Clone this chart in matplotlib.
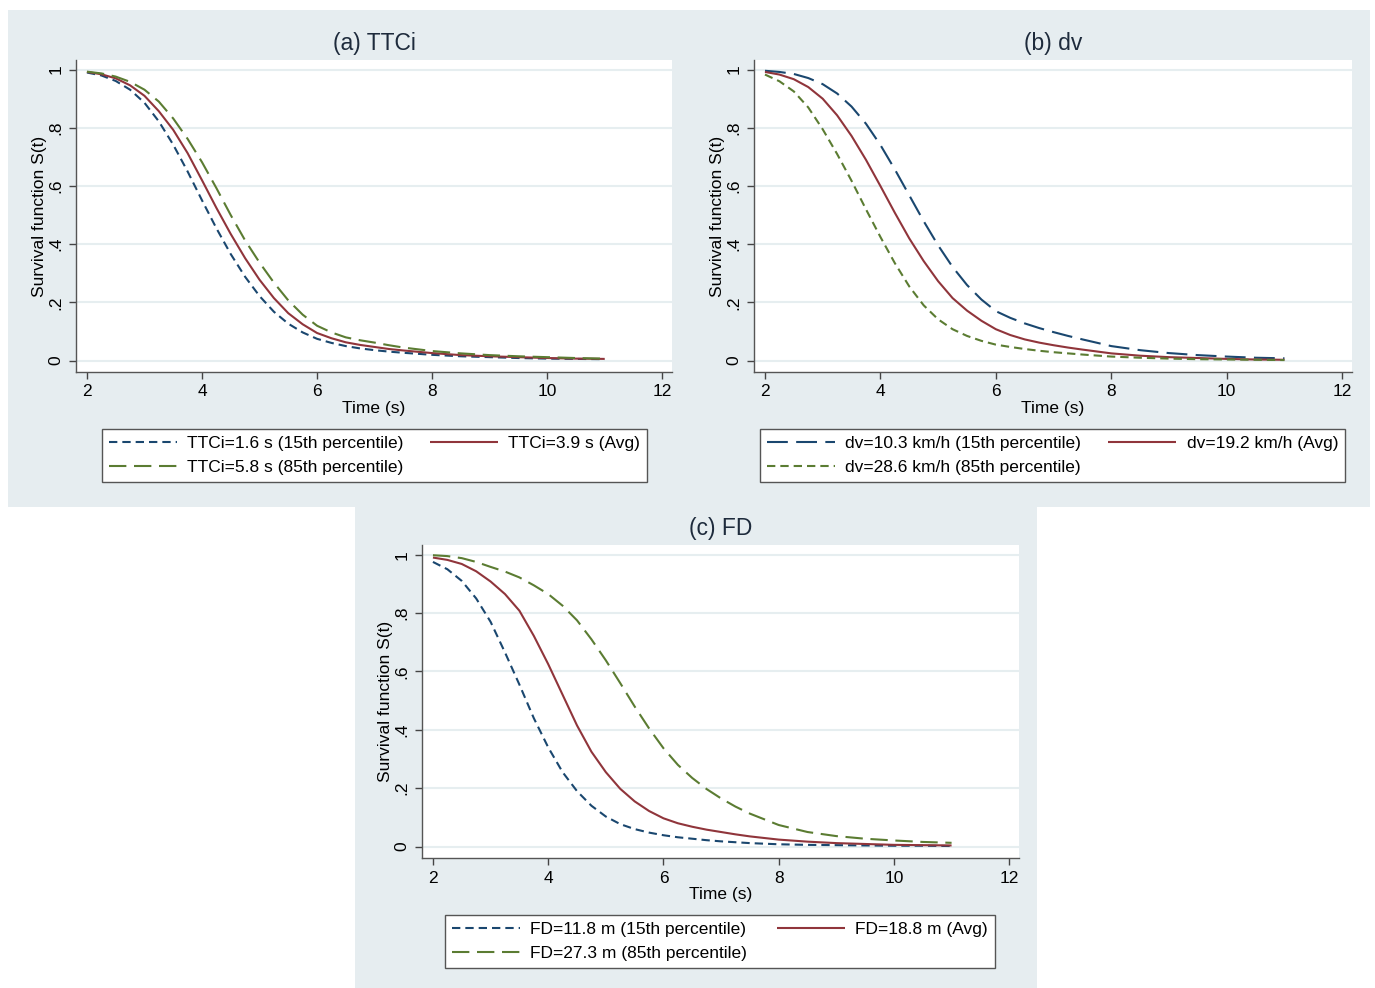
import matplotlib
matplotlib.use("Agg")
import matplotlib.pyplot as plt
from matplotlib.patches import Rectangle

plt.rcParams['font.family'] = ['Liberation Sans', 'DejaVu Sans']
plt.rcParams['lines.scale_dashes'] = False

# ---------------- data ----------------
time_s = [2.0, 2.25, 2.5, 2.75, 3.0, 3.25, 3.5, 3.75, 4.0, 4.25, 4.5, 4.75, 5.0, 5.25,
          5.5, 5.75, 6.0, 6.25, 6.5, 6.75, 7.0, 7.25, 7.5, 8.0, 8.5, 9.0, 9.5, 10.0, 10.5, 11.0]

# (a) TTCi
ttci_p15 = [0.990, 0.980, 0.961, 0.931, 0.886, 0.822, 0.742, 0.650, 0.551, 0.455, 0.366, 0.288,
            0.222, 0.168, 0.127, 0.097, 0.075, 0.061, 0.050, 0.042, 0.036, 0.031, 0.027,
            0.020, 0.015, 0.012, 0.009, 0.007, 0.006, 0.005]
ttci_avg = [0.992, 0.984, 0.970, 0.946, 0.910, 0.857, 0.793, 0.713, 0.620, 0.525, 0.435, 0.352,
            0.278, 0.215, 0.163, 0.125, 0.095, 0.077, 0.063, 0.054, 0.047, 0.040, 0.035,
            0.026, 0.019, 0.015, 0.012, 0.009, 0.007, 0.006]
ttci_p85 = [0.993, 0.987, 0.976, 0.958, 0.931, 0.890, 0.832, 0.762, 0.682, 0.593, 0.500, 0.413,
            0.337, 0.268, 0.207, 0.158, 0.120, 0.097, 0.080, 0.070, 0.062, 0.053, 0.045,
            0.033, 0.025, 0.019, 0.015, 0.012, 0.009, 0.007]

# (b) dv
dv_p15 = [0.996, 0.992, 0.985, 0.971, 0.950, 0.918, 0.873, 0.814, 0.741, 0.657, 0.568, 0.479,
          0.396, 0.322, 0.260, 0.210, 0.170, 0.147, 0.128, 0.112, 0.098, 0.085, 0.073,
          0.050, 0.036, 0.026, 0.019, 0.014, 0.010, 0.008]
dv_avg = [0.992, 0.983, 0.967, 0.940, 0.900, 0.843, 0.772, 0.690, 0.600, 0.508, 0.420, 0.342,
          0.273, 0.215, 0.172, 0.137, 0.108, 0.088, 0.073, 0.062, 0.053, 0.045, 0.038,
          0.025, 0.017, 0.012, 0.009, 0.006, 0.004, 0.003]
dv_p85 = [0.983, 0.960, 0.925, 0.870, 0.795, 0.710, 0.618, 0.520, 0.425, 0.335, 0.255, 0.190,
          0.142, 0.108, 0.085, 0.068, 0.055, 0.047, 0.040, 0.034, 0.029, 0.025, 0.021,
          0.014, 0.010, 0.007, 0.005, 0.004, 0.003, 0.002]

# (c) FD
fd_p15 = [0.975, 0.950, 0.910, 0.850, 0.770, 0.665, 0.555, 0.440, 0.340, 0.255, 0.190, 0.140,
          0.103, 0.077, 0.060, 0.048, 0.039, 0.032, 0.027, 0.022, 0.018, 0.015, 0.012,
          0.008, 0.006, 0.005, 0.004, 0.003, 0.003, 0.002]
fd_avg = [0.990, 0.982, 0.968, 0.943, 0.908, 0.865, 0.808, 0.722, 0.625, 0.520, 0.415, 0.325,
          0.255, 0.198, 0.155, 0.122, 0.097, 0.080, 0.068, 0.058, 0.050, 0.042, 0.035,
          0.024, 0.017, 0.012, 0.009, 0.006, 0.005, 0.004]
fd_p85 = [0.998, 0.995, 0.988, 0.975, 0.958, 0.942, 0.922, 0.895, 0.865, 0.825, 0.775, 0.710,
          0.638, 0.560, 0.480, 0.405, 0.337, 0.280, 0.235, 0.197, 0.165, 0.137, 0.113,
          0.074, 0.050, 0.036, 0.027, 0.021, 0.016, 0.013]

titles = ["(a) TTCi", "(b) dv", "(c) FD"]
labels_a = ["TTCi=1.6 s (15th percentile)", "TTCi=3.9 s (Avg)", "TTCi=5.8 s (85th percentile)"]
labels_b = ["dv=10.3 km/h (15th percentile)", "dv=19.2 km/h (Avg)", "dv=28.6 km/h (85th percentile)"]
labels_c = ["FD=11.8 m (15th percentile)", "FD=18.8 m (Avg)", "FD=27.3 m (85th percentile)"]

x_ticks = [2, 4, 6, 8, 10, 12]
y_ticks = [0, 0.2, 0.4, 0.6, 0.8, 1]
y_tick_labels = ["0", ".2", ".4", ".6", ".8", "1"]

# ---------------- style ----------------
NAVY = "#1a476f"
MAROON = "#90353b"
GREEN = "#5b7c32"
BG = "#E6EDF0"
GRID = "#E6EEF0"
SHORT = (0, (6.0, 3.6))
LONG = (0, (12.5, 5.5))
LONGER = (0, (15, 6))
SOLID = "-"
LW = 1.5
FS = 12.5

W, H = 1375, 988
fig = plt.figure(figsize=(W / 100, H / 100), dpi=100)
fig.patch.set_facecolor("white")

def px_rect(x0, y0, x1, y1):
    return [x0 / W, 1 - y1 / H, (x1 - x0) / W, (y1 - y0) / H]

# background regions
for (x0, y0, x1, y1) in [(8, 10, 1370, 507), (355, 507, 1037, 988)]:
    r = px_rect(x0, y0, x1, y1)
    fig.patches.append(Rectangle((r[0], r[1]), r[2], r[3], transform=fig.transFigure,
                                 facecolor=BG, edgecolor="none", zorder=-10))

def make_panel(rect_px, title, series, labels, styles, legend_px):
    ax = fig.add_axes(px_rect(*rect_px))
    ax.set_zorder(1)
    ax.set_facecolor("white")
    for ys, lab, (col, ls) in zip(series, labels, styles):
        ax.plot(time_s, ys, color=col, linestyle=ls, lw=LW, label=lab,
                solid_capstyle="butt", dash_capstyle="butt")
    ax.set_xlim(1.81, 12.17)
    ax.set_ylim(-0.039, 1.033)
    ax.set_xticks(x_ticks)
    ax.set_xticklabels([str(t) for t in x_ticks])
    ax.set_yticks(y_ticks)
    ax.set_yticklabels(y_tick_labels, rotation=90, va="center")
    ax.tick_params(axis="both", labelsize=FS, length=5, width=1, color="#444444",
                   direction="out", pad=4)
    ax.grid(axis="y", color=GRID, lw=1.5)
    ax.set_axisbelow(True)
    for s in ["top", "right"]:
        ax.spines[s].set_visible(False)
    for s in ["left", "bottom"]:
        ax.spines[s].set_color("#555555")
        ax.spines[s].set_linewidth(1.0)
    ax.set_xlabel("Time (s)", fontsize=FS, labelpad=1)
    ax.set_ylabel("Survival function S(t)", fontsize=FS, labelpad=1)
    ax.set_title(title, fontsize=16.5, color="#1e2b3c", pad=7)
    handles, labs = ax.get_legend_handles_labels()
    order = [0, 2, 1]
    lr = px_rect(*legend_px)
    leg = fig.legend([handles[i] for i in order], [labs[i] for i in order],
                     loc="center", bbox_to_anchor=(lr[0], lr[1], lr[2], lr[3]),
                     mode="expand", ncol=2, fontsize=FS, frameon=True, fancybox=False,
                     framealpha=1.0,
                     handlelength=3.9, handletextpad=0.6, labelspacing=0.5,
                     borderpad=0.4, borderaxespad=0, columnspacing=2.0)
    leg.set_zorder(2)
    fr = leg.get_frame()
    fr.set_edgecolor("#555555")
    fr.set_linewidth(1.0)
    fr.set_facecolor("white")
    return ax

make_panel((76, 60, 672, 372), titles[0], [ttci_p15, ttci_avg, ttci_p85], labels_a,
           [(NAVY, SHORT), (MAROON, SOLID), (GREEN, LONG)], (102, 427, 647, 484))
make_panel((754, 60, 1352, 372), titles[1], [dv_p15, dv_avg, dv_p85], labels_b,
           [(NAVY, LONGER), (MAROON, SOLID), (GREEN, SHORT)], (760, 427, 1345, 484))
make_panel((422, 545, 1019, 858), titles[2], [fd_p15, fd_avg, fd_p85], labels_c,
           [(NAVY, SHORT), (MAROON, SOLID), (GREEN, LONG)], (445, 913, 995, 970))

fig.savefig("out.png", dpi=100, facecolor="white")
